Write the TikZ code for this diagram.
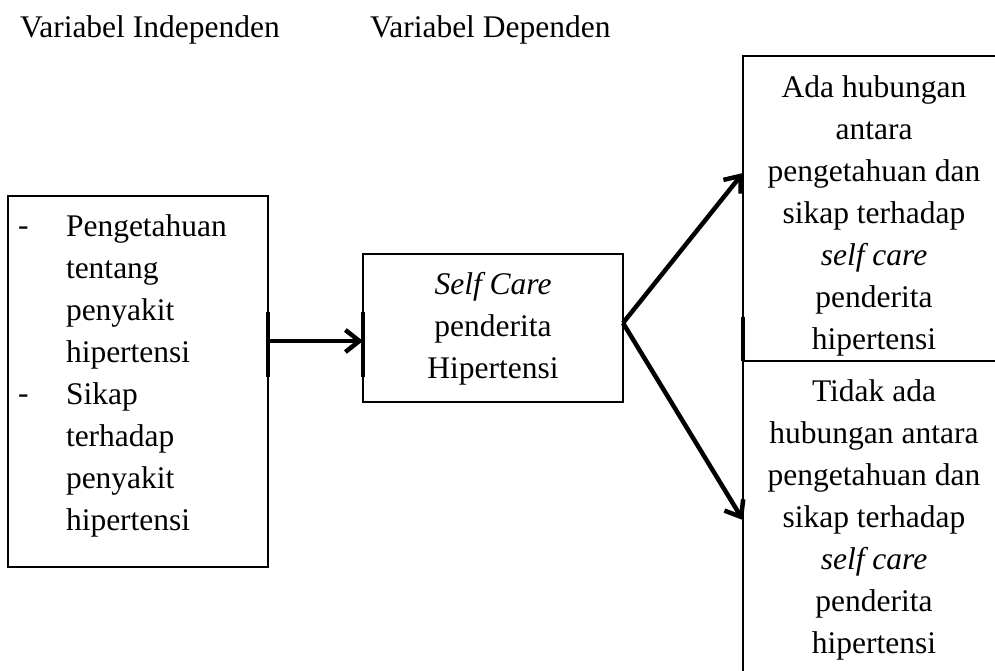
\documentclass[tikz,border=0pt]{standalone}
\usepackage{fontspec}
\setmainfont{Liberation Serif}
\usetikzlibrary{arrows.meta,calc}
\begin{document}
\begin{tikzpicture}[x=1pt,y=-1pt,
  every node/.style={font=\fontsize{31.5}{42}\selectfont, inner sep=0pt, outer sep=0pt},
  boxnode/.style={draw, line width=1.5pt, anchor=north west},
  txt/.style={anchor=base, align=center},
  arr/.style={line width=4.5pt, -{Straight Barb[length=14pt,width=22pt]}},
  thickmark/.style={line width=3.5pt}]
\useasboundingbox (0,0) rectangle (995,671);
\clip (0,0) rectangle (995,671);
% headers
\node[anchor=base west] (hI) at (20,38) {Variabel Independen};
\node[anchor=base west] (hD) at (370,38) {Variabel Dependen};
% boxes
\node[boxnode, minimum width=260pt, minimum height=371pt] (L) at (8,196) {};
\node[boxnode, minimum width=260pt, minimum height=148pt] (M) at (363,254) {};
\node[boxnode, minimum width=262pt, minimum height=305pt] (T) at (743,56) {};
\node[boxnode, minimum width=262pt, minimum height=329pt] (B) at (743,361) {};
% left box text (base anchor = last line)
\node[anchor=base west] (d1) at (18,235) {-};
\node[anchor=base west] (d2) at (18,403) {-};
\node[anchor=base west, align=left] (tL) at (66,530) {Pengetahuan\\tentang\\penyakit\\hipertensi\\Sikap\\terhadap\\penyakit\\hipertensi};
% middle text
\node[txt] (tM) at (493,378) {\textit{Self Care}\\penderita\\Hipertensi};
% right texts
\node[txt] (tT) at (874,349) {Ada hubungan\\antara\\pengetahuan dan\\sikap terhadap\\\textit{self care}\\penderita\\hipertensi};
\node[txt] (tB) at (874,653) {Tidak ada\\hubungan antara\\pengetahuan dan\\sikap terhadap\\\textit{self care}\\penderita\\hipertensi};
% thick marks on edges
\draw[thickmark] ([yshift=69.5pt]L.east) -- ([yshift=4.5pt]L.east);
\draw[thickmark] ([yshift=16pt]M.west) -- ([yshift=-49pt]M.west);
\draw[thickmark] ([yshift=-108.5pt]T.west) -- (T.south west);
% arrows
\coordinate (a1) at ([yshift=-13pt]M.west);
\coordinate (s) at ([yshift=5pt]M.east);
\draw[arr] (L.east |- a1) -- (a1);
\draw[arr] (s) -- ([yshift=35.5pt]T.west);
\draw[arr] (s) -- ([yshift=5.5pt]B.west);
\end{tikzpicture}
\end{document}
